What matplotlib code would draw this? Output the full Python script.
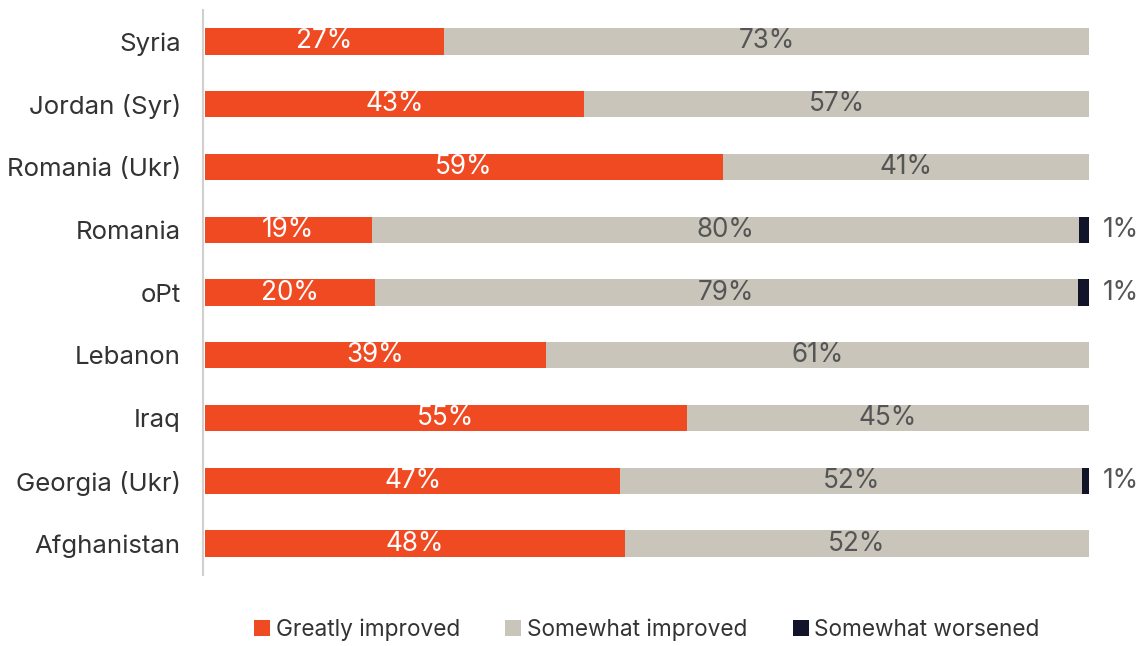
import matplotlib.pyplot as plt
import numpy as np

countries = ["Syria", "Jordan (Syr)", "Romania (Ukr)", "Romania", "oPt",
             "Lebanon", "Iraq", "Georgia (Ukr)", "Afghanistan"]
# bar lengths as measured from the chart (shares of 100)
greatly = [27.1, 42.9, 58.6, 18.9, 19.2, 38.6, 54.5, 47.0, 47.5]
worsened = [0, 0, 0, 1.1, 1.3, 0, 0, 0.8, 0]
somewhat = [100 - a - b for a, b in zip(greatly, worsened)]
# printed labels
greatly_lbl = [27, 43, 59, 19, 20, 39, 55, 47, 48]
somewhat_lbl = [73, 57, 41, 80, 79, 61, 45, 52, 52]
worsened_lbl = [0, 0, 0, 1, 1, 0, 0, 1, 0]
series_names = ["Greatly improved", "Somewhat improved", "Somewhat worsened"]

c_orange = "#F04A23"
c_gray = "#C9C5BA"
c_dark = "#12142A"

plt.rcParams['font.family'] = ['Inter', 'DejaVu Sans']

fig = plt.figure(figsize=(11.46, 6.46), dpi=100)
ax = fig.add_axes([203 / 1146, 1 - 575 / 646, (1089 - 203) / 1146, 565 / 646])

y = np.arange(len(countries))
h = 0.42
g = np.array(greatly)
s = np.array(somewhat)
w = np.array(worsened)

ax.barh(y, g, height=h, color=c_orange, label=series_names[0])
ax.barh(y, s, left=g, height=h, color=c_gray, label=series_names[1])
ax.barh(y, w, left=g + s, height=h, color=c_dark, label=series_names[2])

fs = 18.8
for i in range(len(countries)):
    ax.text(g[i] / 2, y[i], f"{greatly_lbl[i]}%", ha="center", va="center",
            color="white", fontsize=fs)
    ax.text(g[i] + s[i] / 2, y[i], f"{somewhat_lbl[i]}%", ha="center", va="center",
            color="#555555", fontsize=fs)
    if worsened_lbl[i] > 0:
        ax.text(101.6, y[i], f"{worsened_lbl[i]}%", ha="left", va="center",
                color="#555555", fontsize=fs, clip_on=False)

ax.set_xlim(-0.2, 100)
ax.set_ylim(len(countries) - 0.5, -0.5)
ax.set_yticks(y)
ax.set_yticklabels(countries, fontsize=18.6, color="#333333")
ax.tick_params(axis="y", length=0, pad=16)
ax.set_xticks([])
for sp in ["top", "right", "bottom"]:
    ax.spines[sp].set_visible(False)
ax.spines["left"].set_color("#d0d0d0")
ax.spines["left"].set_linewidth(1.5)

leg = fig.legend(loc="center", bbox_to_anchor=(647 / 1146, 1 - 630 / 646), ncol=3,
                 frameon=False, fontsize=16.3, handlelength=0.7, handleheight=0.7,
                 handletextpad=0.25, columnspacing=2.0)
for t in leg.get_texts():
    t.set_color("#333333")

fig.savefig("out.png", dpi=100)
